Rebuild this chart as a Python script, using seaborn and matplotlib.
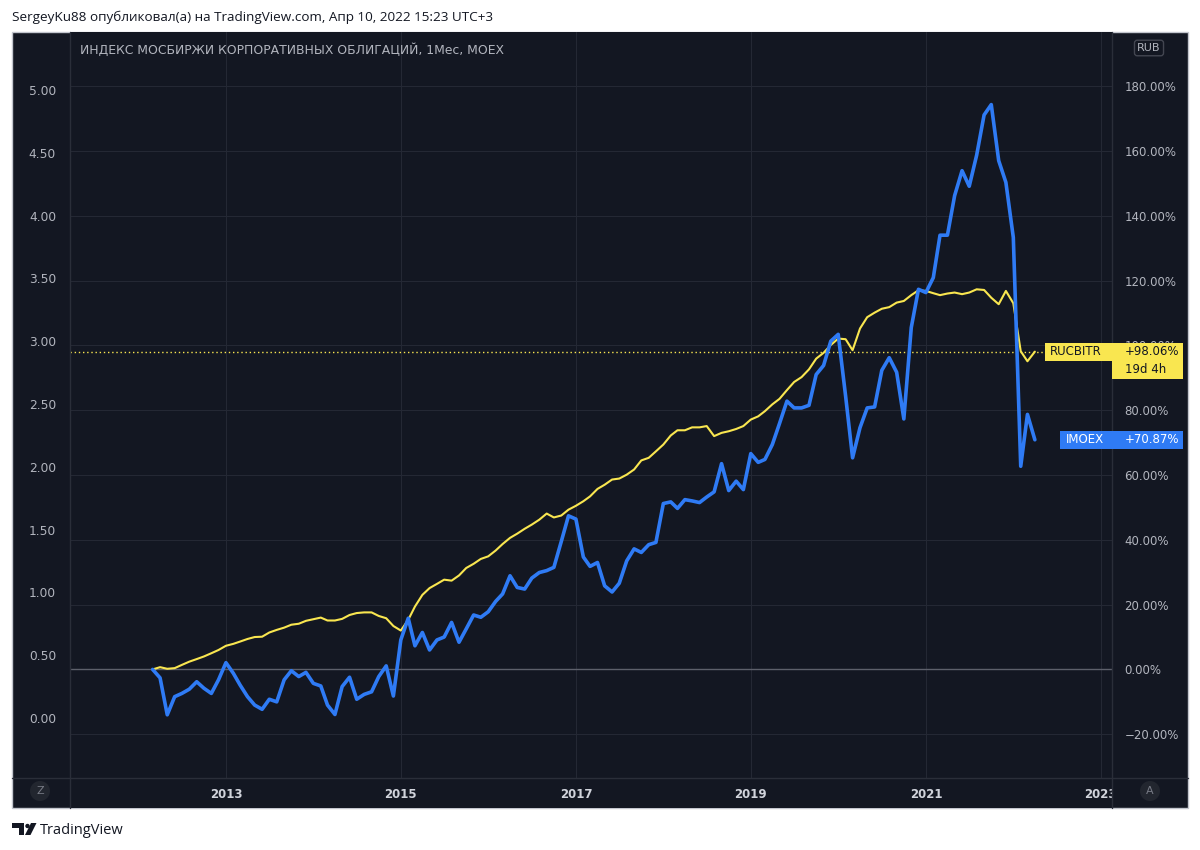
import matplotlib
matplotlib.use("Agg")
import numpy as np
import pandas as pd
import seaborn as sns
import matplotlib.pyplot as plt
import matplotlib.dates as mdates
import matplotlib.transforms as mtransforms
from matplotlib.patches import Rectangle, Polygon, Circle
from matplotlib.lines import Line2D
from matplotlib.ticker import FuncFormatter, FormatStrFormatter

# monthly closes, shown as % change from the first bar (Mar 2012 .. Apr 2022)
months = pd.date_range("2012-03-01", "2022-04-01", freq="MS")

imoex = [0, -2.6, -14, -8.4, -7.4, -6.1, -3.8, -5.8, -7.4, -3.2,
         2.1, -1.2, -4.8, -8.4, -11, -12.3, -9.2, -10, -3.2, -0.4,
         -2.2, -0.9, -4.3, -5.1, -11, -13.9, -5.3, -2.4, -9.2, -7.7,
         -6.9, -2.2, 1.1, -8.2, 9.1, 15.8, 7.3, 11.4, 6.0, 9.1,
         10.0, 14.5, 8.4, 12.5, 16.8, 16.1, 17.8, 21.0, 23.3, 28.9,
         25.3, 24.8, 28.2, 29.9, 30.5, 31.5, 39.5, 47.4, 46.4, 34.7,
         31.8, 33.0, 25.8, 23.9, 26.6, 33.5, 37.2, 36.1, 38.5, 39.2,
         51.2, 51.7, 49.7, 52.4, 52.0, 51.5, 53.2, 54.8, 63.5, 55.2,
         58.1, 55.5, 66.6, 63.9, 64.8, 69.4, 75.9, 82.8, 80.7, 80.7,
         81.5, 91.0, 93.8, 101.3, 103.4, 84.3, 65.3, 74.6, 80.7, 81.0,
         92.3, 96.2, 91.7, 77.3, 105.5, 117.3, 116.3, 120.9, 134.0, 134.0,
         146.2, 153.9, 149.1, 158.7, 171.1, 174.3, 157.0, 150.3, 133.3, 62.7,
         78.7, 70.87]

rucbitr = [0, 0.7, 0.2, 0.4, 1.4, 2.4, 3.2, 4.0, 5.0, 6.0,
           7.3, 7.9, 8.6, 9.4, 10.0, 10.1, 11.4, 12.2, 12.9, 13.8,
           14.1, 15.0, 15.5, 16.0, 15.1, 15.1, 15.6, 16.8, 17.4, 17.6,
           17.6, 16.5, 15.8, 13.4, 12.0, 15.3, 19.4, 23.0, 25.1, 26.4,
           27.7, 27.4, 29.0, 31.3, 32.6, 34.1, 34.9, 36.7, 38.7, 40.6,
           41.9, 43.4, 44.7, 46.2, 48.1, 46.9, 47.5, 49.3, 50.5, 51.9,
           53.4, 55.7, 57.0, 58.6, 58.9, 60.1, 61.7, 64.5, 65.3, 67.3,
           69.4, 72.2, 73.8, 73.8, 74.7, 74.7, 75.1, 72.0, 73.0, 73.5,
           74.2, 75.1, 77.1, 78.1, 79.7, 81.8, 83.5, 86.2, 88.7, 90.2,
           92.6, 95.9, 97.7, 100.1, 102.1, 101.9, 98.5, 105.2, 108.7, 110.1,
           111.3, 111.8, 113.2, 113.7, 115.5, 117.0, 116.8, 116.1, 115.5, 116.0,
           116.3, 115.8, 116.3, 117.3, 117.1, 114.7, 112.7, 116.8, 113.0, 98.2,
           95.1, 98.06]

year_labels = ["2013", "2015", "2017", "2019", "2021", "2023"]
pct_ticks = list(range(-20, 181, 20))
left_ticks = [0, 0.5, 1.0, 1.5, 2.0, 2.5, 3.0, 3.5, 4.0, 4.5, 5.0]

BG = "#131722"
GRID = "#242834"
SEP = "#2a2e39"
TXT = "#b2b5be"
BLUE = "#2f7bf5"
YELLOW = "#f9e650"

sns.set_style("dark")
plt.rcParams["font.family"] = ["DejaVu Sans"]

W, H = 1200, 850
fig = plt.figure(figsize=(12, 8.5), dpi=100, facecolor="white")
# pixel coords measured from the top-left corner
PX = mtransforms.Affine2D().scale(1, -1).translate(0, H)


def fx(x):
    return x / W


def fy(y):
    return 1 - y / H


# dark chart panel
fig.patches.append(Rectangle((12, 32), 1176, 776, transform=PX, facecolor=BG,
                             edgecolor="#c3c6ce", lw=1, zorder=-10))

ax = fig.add_axes([fx(70), fy(778), fx(1112) - fx(70), fy(32) - fy(778)])
ax.set_facecolor(BG)

sns.lineplot(x=months, y=rucbitr, color=YELLOW, linewidth=1.5, ax=ax)
sns.lineplot(x=months, y=imoex, color=BLUE, linewidth=2.6, ax=ax)

x0, x1 = pd.Timestamp("2011-03-22"), pd.Timestamp("2023-02-17")
ax.set_xlim(x0, x1)
ax.set_ylim(-33.5, 196.7)
ax.set_xlabel("")
ax.set_ylabel("")

ax.axhline(0, color="#5d606b", lw=1, zorder=1)
ax.axhline(rucbitr[-1], color=YELLOW, lw=1, ls=(0, (1, 2)), zorder=1)

ax.set_xticks([pd.Timestamp(f"{y}-01-01") for y in year_labels])
ax.set_yticks(pct_ticks)
ax.grid(True, color=GRID, lw=0.8)
ax.tick_params(axis="x", length=0, labelbottom=False)
ax.yaxis.tick_right()
ax.tick_params(axis="y", length=0, pad=9, labelcolor=TXT, labelsize=8.5)
ax.yaxis.set_major_formatter(FuncFormatter(lambda v, p: f"{v:.2f}%".replace("-", "\u2212")))
for s in ax.spines.values():
    s.set_visible(False)

# left price scale
sec = ax.secondary_yaxis("left", functions=(lambda p: 0.3861 + 0.02581 * p,
                                             lambda v: (v - 0.3861) / 0.02581))
sec.set_yticks(left_ticks)
sec.yaxis.set_major_formatter(FormatStrFormatter("%.2f"))
sec.tick_params(length=0, pad=10, labelcolor=TXT, labelsize=8.8)
sec.spines["left"].set_visible(False)

# time scale strip
tax = fig.add_axes([fx(70), fy(808), fx(1112) - fx(70), fy(778) - fy(808)])
tax.set_facecolor(BG)
tax.set_xlim(mdates.date2num(x0), mdates.date2num(x1))
tax.set_xticks([])
tax.set_yticks([])
for s in tax.spines.values():
    s.set_visible(False)
trans = mtransforms.blended_transform_factory(tax.transData, tax.transAxes)
for y in year_labels:
    tax.text(mdates.date2num(pd.Timestamp(f"{y}-01-01")), 0.45, y, transform=trans,
             ha="center", va="center", fontsize=8.5, fontweight="bold",
             color="#d1d4dc", clip_on=True)

# separators
for line in [((12, 1188), (778, 778)), ((70, 70), (32, 808)), ((1112, 1112), (32, 808))]:
    fig.add_artist(Line2D(line[0], line[1], transform=PX, color=SEP, lw=1))

# last value labels on the price scale
bt = mtransforms.blended_transform_factory(PX, ax.transData)
hpx = 18 / 3.2408
yv = rucbitr[-1]
fig.patches.append(Rectangle((1045, yv - hpx / 2), 67, hpx, transform=bt,
                             facecolor=YELLOW, edgecolor="none", zorder=5))
fig.patches.append(Rectangle((1112, yv - hpx * 1.5), 71, hpx * 2, transform=bt,
                             facecolor=YELLOW, edgecolor="none", zorder=5))
fig.text(1050, yv, "RUCBITR", transform=bt, ha="left", va="center",
         fontsize=8.5, color=BG, zorder=6)
fig.text(1125, yv, "+98.06%", transform=bt, ha="left", va="center",
         fontsize=8.5, color=BG, zorder=6)
fig.text(1125, yv - hpx, "19d 4h", transform=bt, ha="left", va="center",
         fontsize=8.5, color=BG, zorder=6)

yb = imoex[-1]
fig.patches.append(Rectangle((1060, yb - hpx / 2), 123, hpx, transform=bt,
                             facecolor=BLUE, edgecolor="none", zorder=5))
fig.text(1066, yb, "IMOEX", transform=bt, ha="left", va="center",
         fontsize=8.5, color="white", zorder=6)
fig.text(1125, yb, "+70.87%", transform=bt, ha="left", va="center",
         fontsize=8.5, color="white", zorder=6)

# texts and small buttons
fig.text(fx(80), fy(50), "ИНДЕКС МОСБИРЖИ КОРПОРАТИВНЫХ ОБЛИГАЦИЙ, 1Мес, MOEX",
         ha="left", va="center", fontsize=8.9, color=TXT)
fig.text(fx(1149), fy(48), "RUB", ha="center", va="center", fontsize=8, color=TXT,
         bbox=dict(boxstyle="round,pad=0.25", fc=BG, ec="#434651", lw=1))
fig.text(fx(40), fy(791), "Z", ha="center", va="center", fontsize=8, color="#787b86",
         bbox=dict(boxstyle="circle,pad=0.45", fc="#22262f", ec="none"))
fig.text(fx(1150), fy(791), "A", ha="center", va="center", fontsize=8, color="#787b86",
         bbox=dict(boxstyle="circle,pad=0.45", fc="#22262f", ec="none"))

fig.text(fx(12), fy(17), "SergeyKu88 опубликовал(а) на TradingView.com, Апр 10, 2022 15:23 UTC+3",
         ha="left", va="center", fontsize=9.7, color="#131722", family=["Open Sans", "DejaVu Sans"])

# TradingView logo
fig.patches.append(Polygon([(12, 823), (24, 823), (24, 835), (19, 835), (19, 827.5), (12, 827.5)],
                           closed=True, transform=PX, facecolor="#131722", edgecolor="none"))
fig.patches.append(Circle((27.5, 826), 2.2, transform=PX, facecolor="#131722", edgecolor="none"))
fig.patches.append(Polygon([(31, 823), (36.5, 823), (30.5, 835), (25, 835)],
                           closed=True, transform=PX, facecolor="#131722", edgecolor="none"))
fig.text(fx(40), fy(830), "TradingView", ha="left", va="center", fontsize=10.5,
         color="#131722", family=["Open Sans", "DejaVu Sans"])

fig.savefig("out.png", dpi=100, facecolor="white")
